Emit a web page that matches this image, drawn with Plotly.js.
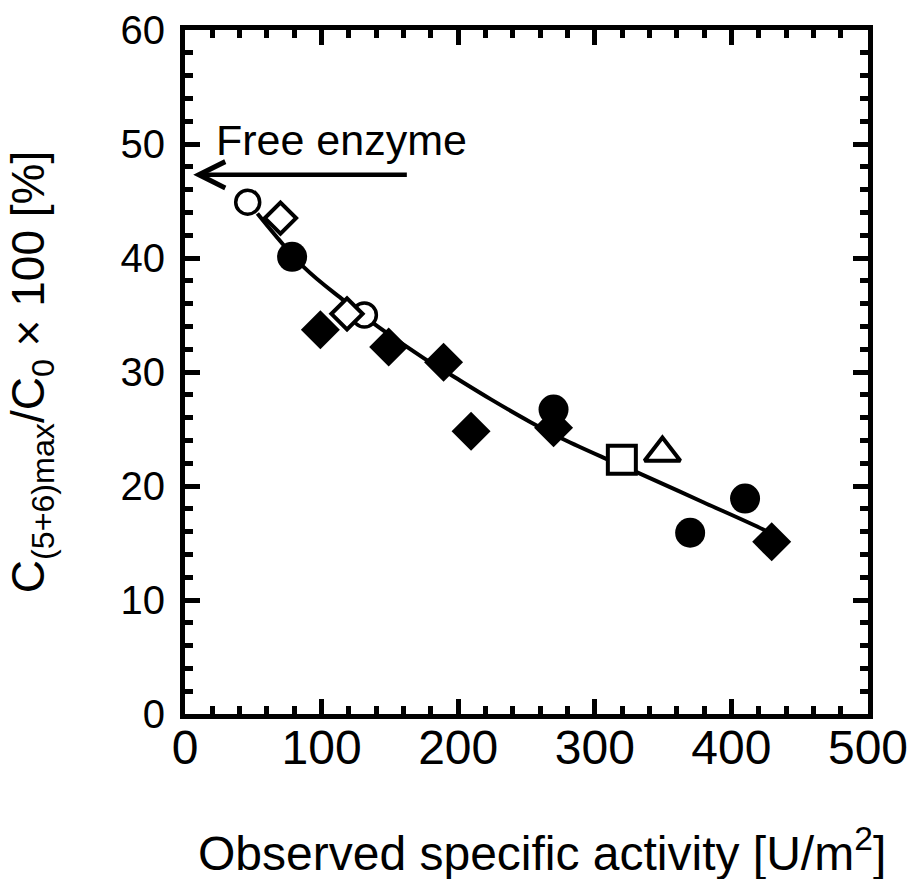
<!DOCTYPE html>
<html>
<head>
<meta charset="utf-8">
<script src="https://cdn.plot.ly/plotly-3.0.1.min.js"></script>
<style>
  html, body { margin: 0; padding: 0; background: #ffffff; }
  #chart { width: 913px; height: 879px; }
</style>
</head>
<body>
<div id="chart"></div>
<script>
// ---- data ----
var filledCircleX = [78.4, 269.8, 369.8, 410.0];
var filledCircleY = [40.1, 26.7, 15.9, 18.9];

var filledDiamondX = [99.1, 149.1, 189.3, 209.4, 269.8, 429.5];
var filledDiamondY = [33.7, 32.2, 30.85, 24.8, 25.1, 15.1];

var openCircleX = [45.9, 131.3];
var openCircleY = [44.9, 35.0];

var openDiamondX = [69.9, 118.6];
var openDiamondY = [43.5, 35.1];

var openSquareX = [319.8];
var openSquareY = [22.3];

var openTriangleX = [349.5];
var openTriangleY = [22.9];

// fitted curve, points
var curveX = [53, 87, 116, 141, 175, 194, 224, 253, 277, 308, 331, 379, 423, 432];
var curveY = [43.9, 39.2, 36.3, 34.0, 31.2, 29.8, 27.6, 25.6, 24.1, 22.4, 21.2, 18.6, 16.2, 15.6];

// free-enzyme reference level (arrow)
var freeEnzymeLevel = 47.3;
var arrowTipX = 6;
var arrowTailX = 163.5;
var freeEnzymeLabel = "Free enzyme";

var xTitle = "Observed specific activity [U/m<sup>2</sup>]";
var yTitle = "C<sub>(5+6)max</sub>/C<sub>0</sub> \u00d7 100 [%]";

var FONT = "Liberation Sans, Arial, Helvetica, sans-serif";

var traces = [
  {
    x: curveX, y: curveY, mode: "lines", type: "scatter",
    line: { color: "#000", width: 4, shape: "spline", smoothing: 1.0 },
    hoverinfo: "skip", showlegend: false
  },
  {
    x: openCircleX, y: openCircleY, mode: "markers", type: "scatter",
    marker: { symbol: "circle", size: 24, color: "#fff", line: { color: "#000", width: 3.5 } },
    showlegend: false
  },
  {
    x: openDiamondX, y: openDiamondY, mode: "markers", type: "scatter",
    marker: { symbol: "diamond", size: 24, color: "#fff", line: { color: "#000", width: 4 } },
    showlegend: false
  },
  {
    x: filledCircleX, y: filledCircleY, mode: "markers", type: "scatter",
    marker: { symbol: "circle", size: 30, color: "#000", line: { width: 0 } },
    showlegend: false
  },
  {
    x: filledDiamondX, y: filledDiamondY, mode: "markers", type: "scatter",
    marker: { symbol: "diamond", size: 30, color: "#000", line: { width: 0 } },
    showlegend: false
  },
  {
    x: openSquareX, y: openSquareY, mode: "markers", type: "scatter",
    marker: { symbol: "square", size: 28, color: "#fff", line: { color: "#000", width: 4 } },
    showlegend: false
  },
  {
    x: openTriangleX, y: openTriangleY, mode: "markers", type: "scatter",
    marker: { symbol: "triangle-up", size: 31, color: "#fff", line: { color: "#000", width: 4 } },
    showlegend: false
  }
];

var axisCommon = {
  showline: true, linecolor: "#000", linewidth: 5, mirror: "ticks",
  ticks: "inside", ticklen: 15, tickwidth: 5, tickcolor: "#000",
  showgrid: false, zeroline: false, fixedrange: true
};

var layout = {
  width: 913, height: 879,
  paper_bgcolor: "#fff", plot_bgcolor: "#fff",
  margin: { l: 185, r: 45, t: 30, b: 165 },
  font: { family: FONT, color: "#000" },
  xaxis: Object.assign({}, axisCommon, {
    range: [0, 500], dtick: 100, tick0: 0,
    tickfont: { size: 48, family: FONT },
    ticklabelstandoff: -13,
    minor: { dtick: 20, ticks: "inside", ticklen: 8, tickwidth: 5, tickcolor: "#000", showgrid: false }
  }),
  yaxis: Object.assign({}, axisCommon, {
    range: [0, 60], dtick: 10, tick0: 0,
    tickfont: { size: 40, family: FONT },
    ticklabelstandoff: 7,
    minor: { dtick: 2, ticks: "inside", ticklen: 8, tickwidth: 5, tickcolor: "#000", showgrid: false },
    title: { text: yTitle, font: { size: 46, family: FONT }, standoff: 63 }
  }),
  annotations: [
    {
      x: arrowTipX, y: freeEnzymeLevel, xref: "x", yref: "y",
      ax: arrowTailX, ay: freeEnzymeLevel, axref: "x", ayref: "y",
      showarrow: true, arrowhead: 5, arrowsize: 1.15, arrowwidth: 4.5, arrowcolor: "#000",
      text: ""
    },
    {
      x: arrowTipX, y: freeEnzymeLevel, xref: "x", yref: "y",
      text: freeEnzymeLabel, showarrow: false,
      xanchor: "left", yanchor: "bottom", xshift: 21, yshift: 9,
      font: { size: 43, family: FONT, color: "#000" }
    },
    {
      x: 0.5227, y: -0.199, xref: "paper", yref: "paper",
      text: xTitle, showarrow: false,
      xanchor: "center", yanchor: "middle",
      font: { size: 48, family: FONT, color: "#000" }
    }
  ],
  showlegend: false
};

Plotly.newPlot("chart", traces, layout, { displayModeBar: false, staticPlot: true });
</script>
</body>
</html>
